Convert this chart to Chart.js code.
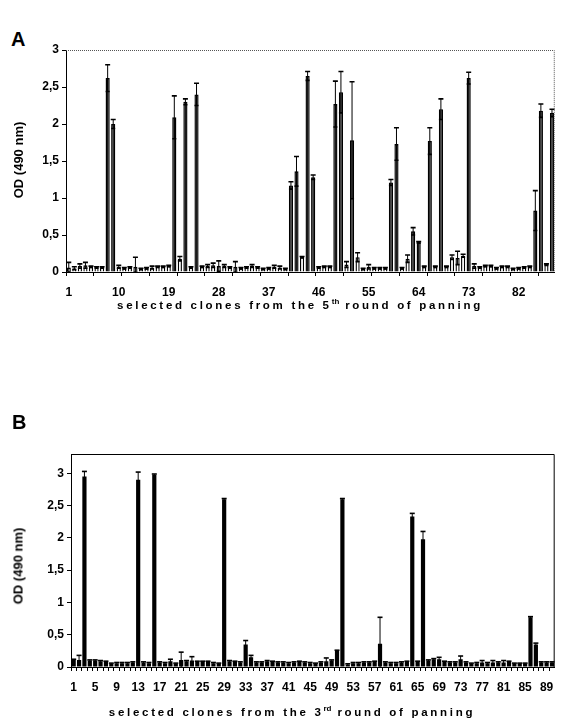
<!DOCTYPE html>
<html>
<head>
<meta charset="utf-8">
<script src="https://cdn.jsdelivr.net/npm/chart.js@4"></script>
<style>
  body { margin: 0; background: #fff; width: 561px; height: 725px; position: relative; overflow: hidden; font-family: 'Liberation Sans', Arial, sans-serif; }
  .wrap { position: absolute; left: 0; width: 561px; }
  .panel { position: absolute; font-weight: bold; font-size: 20px; color: #000; }
  .ytitle { position: absolute; font-weight: bold; font-size: 13px; white-space: nowrap; transform: translate(-50%, -50%) rotate(-90deg); }
  .xtitle { position: absolute; font-weight: bold; font-size: 11.5px; letter-spacing: 2.7px; white-space: nowrap; transform: translateX(-50%); }
  .xtitle sup { font-size: 8px; letter-spacing: 0; }
</style>
</head>
<body>

<div class="panel" style="left:11px; top:28px;">A</div>
<div class="wrap" style="top:0; height:330px;"><canvas id="chartA"></canvas></div>
<div class="ytitle" style="left:18px; top:160px;">OD (490 nm)</div>
<div class="xtitle" style="left:300px; top:297px;">selected clones from the 5<sup>th</sup> round of panning</div>

<div class="panel" style="left:12px; top:411px;">B</div>
<div class="wrap" style="top:400px; height:325px;"><canvas id="chartB"></canvas></div>
<div class="ytitle" style="left:18px; top:566px;">OD (490 nm)</div>
<div class="xtitle" style="left:292px; top:704px;">selected clones from the 3<sup>rd</sup> round of panning</div>

<script>
'use strict';

// data - panel A (5th round), 88 clones

let clonesA = [1, 2, 3, 4, 5, 6, 7, 8, 9, 10, 11, 12, 13, 14, 15, 16, 17, 18, 19, 20,
  21, 22, 23, 24, 25, 26, 27, 28, 29, 30, 31, 32, 33, 34, 35, 36, 37, 38, 39, 40,
  41, 42, 43, 44, 45, 46, 47, 48, 49, 50, 51, 52, 53, 54, 55, 56, 57, 58, 59, 60,
  61, 62, 63, 64, 65, 66, 67, 68, 69, 70, 71, 72, 73, 74, 75, 76, 77, 78, 79, 80,
  81, 82, 83, 84, 85, 86, 87, 88];

let odA = [0.06, 0.05, 0.08, 0.09, 0.07, 0.06, 0.06, 2.62, 2.0, 0.07,
  0.05, 0.06, 0.07, 0.04, 0.05, 0.06, 0.07, 0.07, 0.08, 2.09,
  0.18, 2.3, 0.06, 2.4, 0.07, 0.08, 0.09, 0.08, 0.08, 0.06,
  0.07, 0.05, 0.06, 0.08, 0.06, 0.04, 0.05, 0.07, 0.06, 0.04,
  1.17, 1.36, 0.2, 2.65, 1.28, 0.06, 0.07, 0.07, 2.27, 2.43,
  0.1, 1.78, 0.2, 0.04, 0.07, 0.05, 0.05, 0.05, 1.21, 1.73,
  0.05, 0.18, 0.55, 0.4, 0.07, 1.77, 0.07, 2.2, 0.07, 0.2,
  0.19, 0.22, 2.62, 0.08, 0.06, 0.08, 0.08, 0.05, 0.07, 0.07,
  0.04, 0.05, 0.06, 0.07, 0.83, 2.18, 0.1, 2.15];

let errA = [0.07, 0.02, 0.03, 0.04, 0.01, 0.01, 0.01, 0.18, 0.06, 0.02,
  0.01, 0.01, 0.13, 0.01, 0.01, 0.02, 0.01, 0.01, 0.01, 0.29,
  0.03, 0.04, 0.01, 0.15, 0.01, 0.02, 0.03, 0.07, 0.02, 0.01,
  0.07, 0.01, 0.01, 0.02, 0.01, 0.01, 0.01, 0.02, 0.02, 0.01,
  0.05, 0.2, 0.01, 0.06, 0.03, 0.01, 0.01, 0.01, 0.31, 0.28,
  0.04, 0.79, 0.06, 0.01, 0.03, 0.01, 0.01, 0.01, 0.04, 0.22,
  0.01, 0.05, 0.05, 0.01, 0.01, 0.18, 0.01, 0.14, 0.01, 0.03,
  0.09, 0.02, 0.08, 0.03, 0.01, 0.01, 0.01, 0.01, 0.01, 0.01,
  0.01, 0.01, 0.01, 0.01, 0.27, 0.09, 0.01, 0.05];

// data - panel B (3rd round), 90 clones

let clonesB = [1, 2, 3, 4, 5, 6, 7, 8, 9, 10, 11, 12, 13, 14, 15, 16, 17, 18, 19, 20,
  21, 22, 23, 24, 25, 26, 27, 28, 29, 30, 31, 32, 33, 34, 35, 36, 37, 38, 39, 40,
  41, 42, 43, 44, 45, 46, 47, 48, 49, 50, 51, 52, 53, 54, 55, 56, 57, 58, 59, 60,
  61, 62, 63, 64, 65, 66, 67, 68, 69, 70, 71, 72, 73, 74, 75, 76, 77, 78, 79, 80,
  81, 82, 83, 84, 85, 86, 87, 88, 89, 90];

let odB = [0.11, 0.11, 2.95, 0.1, 0.1, 0.09, 0.08, 0.05, 0.06, 0.06,
  0.06, 0.07, 2.9, 0.07, 0.06, 2.98, 0.07, 0.06, 0.09, 0.05,
  0.11, 0.09, 0.1, 0.08, 0.08, 0.08, 0.06, 0.05, 2.6, 0.09,
  0.08, 0.07, 0.35, 0.15, 0.07, 0.07, 0.09, 0.08, 0.07, 0.07,
  0.06, 0.07, 0.08, 0.07, 0.06, 0.05, 0.07, 0.09, 0.1, 0.25,
  2.6, 0.04, 0.06, 0.06, 0.07, 0.07, 0.08, 0.36, 0.07, 0.06,
  0.06, 0.07, 0.08, 2.33, 0.08, 1.98, 0.1, 0.12, 0.12, 0.08,
  0.07, 0.07, 0.12, 0.07, 0.05, 0.06, 0.07, 0.06, 0.07, 0.07,
  0.07, 0.08, 0.05, 0.05, 0.05, 0.77, 0.35, 0.07, 0.07, 0.07];

let errB = [0.01, 0.07, 0.08, 0.01, 0.01, 0.01, 0.01, 0.01, 0.01, 0.01,
  0.01, 0.01, 0.12, 0.01, 0.01, 0.01, 0.01, 0.01, 0.03, 0.01,
  0.12, 0.01, 0.06, 0.01, 0.01, 0.01, 0.01, 0.01, 0.01, 0.01,
  0.01, 0.01, 0.06, 0.03, 0.01, 0.01, 0.01, 0.01, 0.01, 0.01,
  0.01, 0.01, 0.01, 0.01, 0.01, 0.01, 0.01, 0.05, 0.01, 0.01,
  0.01, 0.01, 0.01, 0.01, 0.01, 0.01, 0.01, 0.41, 0.01, 0.01,
  0.01, 0.01, 0.01, 0.05, 0.01, 0.12, 0.01, 0.01, 0.03, 0.01,
  0.01, 0.01, 0.05, 0.01, 0.01, 0.01, 0.03, 0.01, 0.03, 0.01,
  0.03, 0.01, 0.01, 0.01, 0.01, 0.01, 0.02, 0.01, 0.01, 0.01];

let yTicksA = { min: 0, max: 3, step: 0.5 };
let yTicksB = { min: 0, max: 3.3, step: 0.5 };

// plugins

// error bars: whisker from value-err to value+err with a cap on top
let errorBars = {
  id: 'errorBars',
  afterDatasetsDraw(chart) {
    let ctx = chart.ctx;
    let yScale = chart.scales.y;
    chart.data.datasets.forEach((ds, di) => {
      let meta = chart.getDatasetMeta(di);
      meta.data.forEach((bar, i) => {
        let v = ds.data[i];
        let e = ds.errors[i];
        let top = yScale.getPixelForValue(v + e);
        let bot = yScale.getPixelForValue(Math.max(0, v - e));
        ctx.save();
        ctx.strokeStyle = '#000';
        ctx.lineWidth = 1;
        ctx.beginPath();
        ctx.moveTo(bar.x, top);
        ctx.lineTo(bar.x, bot);
        ctx.stroke();
        ctx.lineWidth = 1.6;
        ctx.beginPath();
        ctx.moveTo(bar.x - 2.5, top);
        ctx.lineTo(bar.x + 2.5, top);
        if (ds.lowMarks) {
          ctx.moveTo(bar.x - 2, bot);
          ctx.lineTo(bar.x + 2, bot);
        }
        ctx.stroke();
        ctx.restore();
      });
    });
  }
};

// top and right edge of the plot box
let frame = {
  id: 'frame',
  afterDraw(chart, args, opts) {
    let a = chart.chartArea;
    let ctx = chart.ctx;
    ctx.save();
    ctx.strokeStyle = opts.color;
    ctx.lineWidth = 1;
    ctx.setLineDash(opts.dash || []);
    ctx.beginPath();
    ctx.moveTo(a.left, a.top + 0.5);
    ctx.lineTo(a.right - 0.5, a.top + 0.5);
    ctx.lineTo(a.right - 0.5, a.bottom);
    ctx.stroke();
    ctx.restore();
  }
};

// chart builder

let tickFont = { family: "'Liberation Sans', Arial, sans-serif", size: 12, weight: 'bold' };

function makeChart(id, labels, values, errors, opts) {
  let ctx = document.getElementById(id);
  let config = {
    type: 'bar',
    data: {
      labels: labels,
      datasets: [
        {
          data: values,
          errors: errors,
          lowMarks: opts.lowMarks,
          backgroundColor: opts.fill,
          borderColor: '#000',
          borderWidth: opts.borderWidth,
          borderSkipped: 'bottom',
          barPercentage: opts.barPct,
          categoryPercentage: 1
        }
      ]
    },
    options: {
      animation: false,
      responsive: true,
      maintainAspectRatio: false,
      layout: { padding: { top: opts.padTop, right: opts.padRight, left: 0, bottom: 0 } },
      plugins: {
        legend: { display: false },
        tooltip: { enabled: false },
        frame: { color: opts.frameColor, dash: opts.frameDash }
      },
      scales: {
        x: {
          type: 'category',
          offset: true,
          grid: {
            offset: true,
            drawOnChartArea: false,
            tickLength: 4,
            tickColor: (c) => (c.index % opts.tickEvery === 0 ? '#000' : 'rgba(0,0,0,0)')
          },
          border: { color: '#000', width: 1 },
          ticks: {
            autoSkip: false,
            maxRotation: 0,
            minRotation: 0,
            padding: 9,
            color: '#000',
            font: tickFont,
            callback: function (val, idx) {
              return idx % opts.labelEvery === 0 ? this.getLabelForValue(val) : '';
            }
          },
          afterFit: (s) => { s.height = opts.xHeight; }
        },
        y: {
          min: opts.yTicks.min,
          max: opts.yTicks.max,
          grid: { drawOnChartArea: false, tickLength: 4, tickColor: '#000' },
          border: { color: '#000', width: 1 },
          ticks: {
            stepSize: opts.yTicks.step,
            includeBounds: false,
            padding: 3,
            color: '#000',
            font: tickFont,
            callback: (v) => String(v).replace('.', ',')
          },
          afterFit: (s) => { s.width = opts.yWidth; }
        }
      }
    },
    plugins: [errorBars, frame]
  };
  return new Chart(ctx, config);
}

// executable code

makeChart('chartA', clonesA, odA, errA, {
  fill: (c) => (c.raw > 0.3 ? '#1a1a1a' : '#fff'), borderWidth: 1.4, barPct: 0.75, lowMarks: true,
  tickEvery: 5, labelEvery: 9, yTicks: yTicksA,
  padTop: 50, padRight: 2, xHeight: 58, yWidth: 66,
  frameColor: '#555', frameDash: [1, 1]
});

makeChart('chartB', clonesB, odB, errB, {
  fill: '#000', borderWidth: 0, barPct: 0.78, lowMarks: false,
  tickEvery: 1, labelEvery: 4, yTicks: yTicksB,
  padTop: 54, padRight: 1, xHeight: 58, yWidth: 71,
  frameColor: '#000', frameDash: []
});
</script>
</body>
</html>
